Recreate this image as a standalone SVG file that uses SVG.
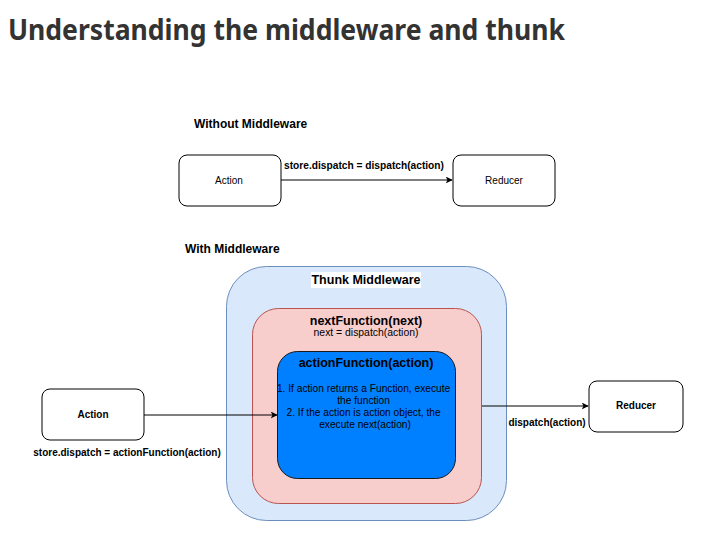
<svg xmlns="http://www.w3.org/2000/svg" width="701" height="559" viewBox="0 0 701 559">
<defs>
<style>
.t{font-family:"Liberation Sans",Arial,sans-serif;fill:#000}
.b{font-weight:bold}
.box{fill:#fff;stroke:#000;stroke-width:1}
.edge{fill:none;stroke:#000;stroke-width:1}
</style>
<marker id="arr" viewBox="0 0 10 10" refX="9" refY="5" markerWidth="7" markerHeight="7" markerUnits="userSpaceOnUse" orient="auto">
<path d="M0,0 L10,5 L0,10 L2.5,5 Z" fill="#000"/>
</marker>
</defs>
<rect width="701" height="559" fill="#fff"/>
<text x="8" y="40" font-family="'Noto Sans','Open Sans',sans-serif" font-weight="bold" font-size="29" fill="#333" textLength="557" lengthAdjust="spacingAndGlyphs">Understanding the middleware and thunk</text>

<text class="t b" x="194" y="128" font-size="12">Without Middleware</text>
<text class="t b" x="185" y="253" font-size="12">With Middleware</text>

<g id="action-top">
<rect class="box" x="179" y="155" width="102" height="51" rx="8"/>
<text class="t" x="229" y="184" font-size="10" text-anchor="middle">Action</text>
</g>
<g id="reducer-top">
<rect class="box" x="453" y="155" width="102" height="51" rx="8"/>
<text class="t" x="504" y="184" font-size="10" text-anchor="middle">Reducer</text>
</g>

<g id="thunk">
<rect x="226.5" y="266.5" width="280" height="254" rx="40" fill="#dae8fc" stroke="#6c8ebf"/>
<rect x="311" y="272" width="110" height="16" fill="#fff"/>
<text class="t b" x="366" y="284" font-size="12.5" text-anchor="middle" fill="#1a1a1a">Thunk Middleware</text>
</g>
<g id="nextFunction">
<rect x="252.5" y="308.5" width="229" height="195" rx="26" fill="#f8cecc" stroke="#b85450"/>
<text class="t b" x="366" y="325" font-size="12.5" text-anchor="middle">nextFunction(next)</text>
<text class="t" x="366" y="336" font-size="10.4" text-anchor="middle">next = dispatch(action)</text>
</g>
<g id="actionFunction">
<rect x="277.5" y="351.5" width="178" height="127" rx="20" fill="#007fff" stroke="#1a1a1a"/>
<text class="t b" x="366" y="367" font-size="12.5" text-anchor="middle">actionFunction(action)</text>
<text class="t" font-size="10.2" text-anchor="middle" fill="#1a1a1a">
<tspan x="365" y="392">1. If action returns a Function, execute</tspan>
<tspan x="365" y="404">the function</tspan>
<tspan x="365" y="416">2. If the action is action object, the</tspan>
<tspan x="365" y="428">execute next(action)</tspan>
</text>
</g>

<g id="action-bottom">
<rect class="box" x="42" y="389" width="102" height="51" rx="8"/>
<text class="t b" x="93" y="418" font-size="10" text-anchor="middle">Action</text>
</g>
<g id="reducer-bottom">
<rect class="box" x="589" y="381" width="94" height="51" rx="8"/>
<text class="t b" x="636" y="409" font-size="10" text-anchor="middle">Reducer</text>
</g>

<g id="connectors">
<line class="edge" x1="281" y1="180" x2="452" y2="180" marker-end="url(#arr)"/>
<text class="t b" x="364" y="169" font-size="10.2" text-anchor="middle">store.dispatch = dispatch(action)</text>
<line class="edge" x1="144" y1="415" x2="277" y2="415" marker-end="url(#arr)"/>
<text class="t b" x="127" y="456" font-size="10" text-anchor="middle">store.dispatch = actionFunction(action)</text>
<line class="edge" x1="482" y1="406" x2="588" y2="406" marker-end="url(#arr)"/>
<text class="t b" x="547" y="426" font-size="10" text-anchor="middle">dispatch(action)</text>
</g>
</svg>
